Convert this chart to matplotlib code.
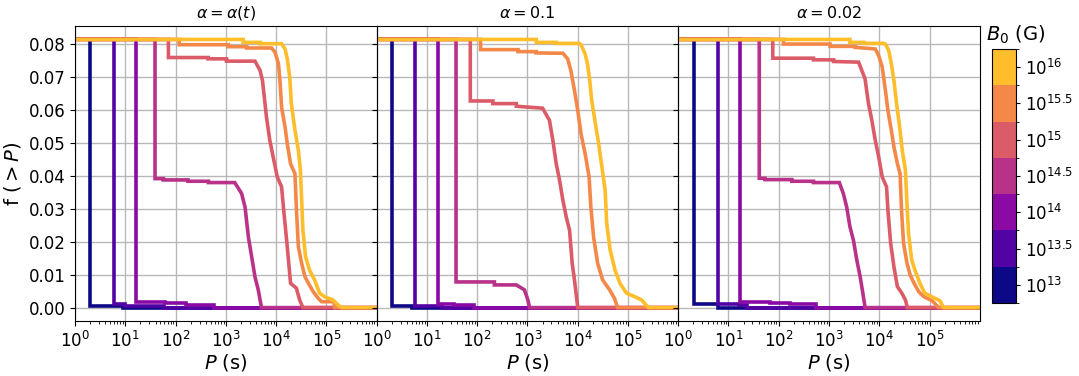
import numpy as np
import matplotlib
matplotlib.use("Agg")
import matplotlib.pyplot as plt
from matplotlib.colors import ListedColormap, BoundaryNorm
from matplotlib.cm import ScalarMappable

# ---------------- data ----------------
FMAX = 0.0815
B0_EXP = [13.0, 13.5, 14.0, 14.5, 15.0, 15.5, 16.0]
B0_LABELS = [r'$10^{13}$', r'$10^{13.5}$', r'$10^{14}$', r'$10^{14.5}$',
             r'$10^{15}$', r'$10^{15.5}$', r'$10^{16}$']
PANEL_TITLES = [r'$\alpha = \alpha(t)$', r'$\alpha = 0.1$', r'$\alpha = 0.02$']
Y_TICKS = [0.00, 0.01, 0.02, 0.03, 0.04, 0.05, 0.06, 0.07, 0.08]

# panel 1: alpha = alpha(t)
p_at_130 = [2.0, 2.0, 9.0, 9.0]
f_at_130 = [FMAX, 0.0006, 0.0006, 0.0]
p_at_135 = [5.9, 5.9, 10, 10, 60, 60]
f_at_135 = [FMAX, 0.0011, 0.0011, 0.0005, 0.0005, 0.0]
p_at_140 = [16.5, 16.5, 63, 63, 158, 158, 580, 580]
f_at_140 = [FMAX, 0.0018, 0.0018, 0.0013, 0.0013, 0.0008, 0.0008, 0.0]
p_at_145 = [39, 39, 57, 57, 176, 176, 450, 450, 1500, 2050, 2400, 2800, 3250, 3780, 4400, 5100]
f_at_145 = [FMAX, 0.0392, 0.0392, 0.0388, 0.0388, 0.0384, 0.0384, 0.0380, 0.0380,
            0.0347, 0.0306, 0.0215, 0.0155, 0.0094, 0.0054, 0.0]
p_at_150 = [72, 72, 445, 445, 1030, 1030, 3790, 4770, 5340, 6400, 7470, 8700, 10500,
            12800, 13900, 16600, 19300, 25200, 29300, 34000]
f_at_150 = [FMAX, 0.0760, 0.0760, 0.0756, 0.0756, 0.0749, 0.0749, 0.0721, 0.0690, 0.0580,
            0.0508, 0.0458, 0.0397, 0.0367, 0.0306, 0.0185, 0.0074, 0.0059, 0.0023, 0.0]
p_at_155 = [118, 118, 1110, 1110, 2580, 2580, 8100, 9500, 11100, 12000, 12800, 15000, 16600,
            19300, 23600, 25300, 27600, 32000, 37300, 43700, 54700, 68700, 80000, 140000, 146000]
f_at_155 = [FMAX, 0.0799, 0.0799, 0.0793, 0.0793, 0.0789, 0.0789, 0.0776, 0.0741, 0.0680,
            0.0609, 0.0549, 0.0498, 0.0437, 0.0407, 0.0296, 0.0185, 0.0135, 0.0094, 0.0074,
            0.0048, 0.0028, 0.0018, 0.0018, 0.0]
p_at_160 = [2200, 2200, 4770, 4770, 12800, 15000, 16600, 18600, 20000, 23600, 27600, 30300,
            34000, 38300, 46000, 58000, 73000, 92000, 135000, 170000, 200000]
f_at_160 = [FMAX, 0.0806, 0.0806, 0.0802, 0.0802, 0.0786, 0.0756, 0.0700, 0.0620, 0.0539,
            0.0478, 0.0417, 0.0235, 0.0155, 0.0114, 0.0084, 0.0044, 0.0033, 0.0023, 0.0008, 0.0]

# panel 2: alpha = 0.1
p_a01_130 = [2.0, 2.0, 5.0, 5.0]
f_a01_130 = [FMAX, 0.0005, 0.0005, 0.0]
p_a01_135 = [5.9, 5.9, 20, 20]
f_a01_135 = [FMAX, 0.0004, 0.0004, 0.0]
p_a01_140 = [16.5, 16.5, 35, 35, 85, 85]
f_a01_140 = [FMAX, 0.0011, 0.0011, 0.0007, 0.0007, 0.0]
p_a01_145 = [38, 38, 220, 220, 600, 870, 1020, 1100]
f_a01_145 = [FMAX, 0.0078, 0.0078, 0.0069, 0.0069, 0.0054, 0.0023, 0.0]
p_a01_150 = [73, 73, 205, 205, 600, 600, 2000, 2740, 3200, 3720, 4350, 5060, 5890, 6870,
             7740, 8600, 10000]
f_a01_150 = [FMAX, 0.0628, 0.0628, 0.0620, 0.0620, 0.0612, 0.0606, 0.0569, 0.0508, 0.0438,
             0.0387, 0.0326, 0.0276, 0.0235, 0.0135, 0.0084, 0.0]
p_a01_155 = [117, 117, 650, 650, 1490, 1490, 5070, 6300, 7300, 8600, 10000, 11600, 14000,
             16800, 18200, 20600, 24800, 31200, 42900, 53700, 62000]
f_a01_155 = [FMAX, 0.0784, 0.0784, 0.0778, 0.0778, 0.0774, 0.0773, 0.0756, 0.0720, 0.0660,
             0.0599, 0.0528, 0.0468, 0.0397, 0.0306, 0.0215, 0.0135, 0.0084, 0.0054, 0.0028, 0.0]
p_a01_160 = [1500, 1500, 3720, 3720, 10700, 11600, 14000, 15600, 17300, 18900, 22400, 26000,
             30200, 35000, 37600, 44000, 55000, 69000, 93000, 137000, 186000, 254000]
f_a01_160 = [FMAX, 0.0806, 0.0806, 0.0803, 0.0803, 0.0799, 0.0771, 0.0741, 0.0690, 0.0630,
             0.0559, 0.0498, 0.0427, 0.0357, 0.0256, 0.0175, 0.0114, 0.0074, 0.0044, 0.0033,
             0.0023, 0.0]

# panel 3: alpha = 0.02
p_a002_130 = [2.1, 2.1, 6.2, 6.2]
f_a002_130 = [FMAX, 0.0011, 0.0011, 0.0]
p_a002_135 = [6.2, 6.2, 16, 16, 23, 23]
f_a002_135 = [FMAX, 0.0011, 0.0011, 0.0007, 0.0007, 0.0]
p_a002_140 = [17.3, 17.3, 67, 67, 165, 165, 560, 560]
f_a002_140 = [FMAX, 0.0018, 0.0018, 0.0015, 0.0015, 0.0010, 0.0010, 0.0]
p_a002_145 = [41, 41, 53, 53, 182, 182, 490, 490, 1600, 1920, 2240, 2600, 3050, 3560, 4150,
              4700, 5200]
f_a002_145 = [FMAX, 0.0393, 0.0393, 0.0389, 0.0389, 0.0384, 0.0384, 0.0380, 0.0380, 0.0347,
              0.0306, 0.0246, 0.0205, 0.0145, 0.0094, 0.0044, 0.0]
p_a002_150 = [76, 76, 490, 490, 1230, 1230, 3870, 4500, 5200, 6080, 7100, 8300, 9700, 11400,
              13900, 14800, 16800, 19500, 22800, 28000, 33000, 36000]
f_a002_150 = [FMAX, 0.0758, 0.0758, 0.0753, 0.0753, 0.0748, 0.0746, 0.0720, 0.0695, 0.0620,
              0.0569, 0.0508, 0.0458, 0.0397, 0.0367, 0.0296, 0.0195, 0.0124, 0.0064, 0.0044,
              0.0023, 0.0]
p_a002_155 = [124, 124, 1050, 1050, 3300, 3300, 8300, 9700, 11400, 13200, 14800, 17300, 19500,
              22800, 25800, 27600, 30300, 35400, 41000, 49000, 61000, 77000, 112000, 151000]
f_a002_155 = [FMAX, 0.0801, 0.0801, 0.0794, 0.0794, 0.0791, 0.0786, 0.0766, 0.0731, 0.0660,
              0.0599, 0.0539, 0.0488, 0.0438, 0.0407, 0.0296, 0.0195, 0.0135, 0.0099, 0.0074,
              0.0048, 0.0033, 0.0021, 0.0]
p_a002_160 = [2600, 2600, 4900, 4900, 12000, 13200, 15400, 17300, 19500, 22000, 25800, 28500,
              33000, 35400, 38000, 44000, 51000, 64000, 80000, 110000, 160000, 190000]
f_a002_160 = [FMAX, 0.0806, 0.0806, 0.0803, 0.0803, 0.0801, 0.0781, 0.0741, 0.0690, 0.0620,
              0.0539, 0.0478, 0.0417, 0.0316, 0.0226, 0.0145, 0.0114, 0.0074, 0.0044, 0.0033,
              0.0021, 0.0]

panels = [
    [(p_at_130, f_at_130), (p_at_135, f_at_135), (p_at_140, f_at_140), (p_at_145, f_at_145),
     (p_at_150, f_at_150), (p_at_155, f_at_155), (p_at_160, f_at_160)],
    [(p_a01_130, f_a01_130), (p_a01_135, f_a01_135), (p_a01_140, f_a01_140),
     (p_a01_145, f_a01_145), (p_a01_150, f_a01_150), (p_a01_155, f_a01_155),
     (p_a01_160, f_a01_160)],
    [(p_a002_130, f_a002_130), (p_a002_135, f_a002_135), (p_a002_140, f_a002_140),
     (p_a002_145, f_a002_145), (p_a002_150, f_a002_150), (p_a002_155, f_a002_155),
     (p_a002_160, f_a002_160)],
]

# ---------------- figure ----------------
XMIN, XMAX = 1.0, 9.9e5
colors = plt.cm.plasma(np.arange(len(B0_EXP)) / len(B0_EXP))

fig = plt.figure(figsize=(10.79, 3.76), dpi=100)
axes = fig.subplots(1, 3, sharey=True)
fig.subplots_adjust(left=0.0695, right=0.908, bottom=0.146, top=0.931, wspace=0)

for i, (ax, title, curves) in enumerate(zip(axes, PANEL_TITLES, panels)):
    for (p, f), c in zip(curves, colors):
        x = [XMIN] + list(p) + [XMAX]
        y = [FMAX] + list(f) + [0.0]
        ax.plot(x, y, color=c, lw=2.6, solid_joinstyle='miter')
    ax.set_xscale('log')
    ax.set_xlim(XMIN, XMAX)
    ax.set_ylim(-0.0041, 0.0856)
    ax.set_yticks(Y_TICKS)
    ax.grid(True, which='major', color='#b8b8b8', lw=1.0)
    ax.set_axisbelow(True)
    ax.set_title(title, fontsize=11.5)
    ax.set_xlabel(r'$P$ (s)', fontsize=14, labelpad=1)
    ax.tick_params(axis='both', which='major', labelsize=12)
    if i == 0:
        ax.set_ylabel(r'f $(>P)$', fontsize=14, labelpad=4)
        ax.set_yticklabels([f'{v:.2f}' for v in Y_TICKS])

cmap = ListedColormap(colors)
bounds = np.arange(12.75, 16.26, 0.5)
norm = BoundaryNorm(bounds, cmap.N)
cax = fig.add_axes([0.919, 0.194, 0.0222, 0.676])
cb = fig.colorbar(ScalarMappable(norm=norm, cmap=cmap), cax=cax, ticks=B0_EXP)
cb.ax.set_yticklabels(B0_LABELS, fontsize=12)
cb.ax.tick_params(length=3)
fig.text(0.9416, 0.907, r'$B_0$ (G)', fontsize=14, ha='center', va='center')

fig.savefig('out.png', dpi=100)
